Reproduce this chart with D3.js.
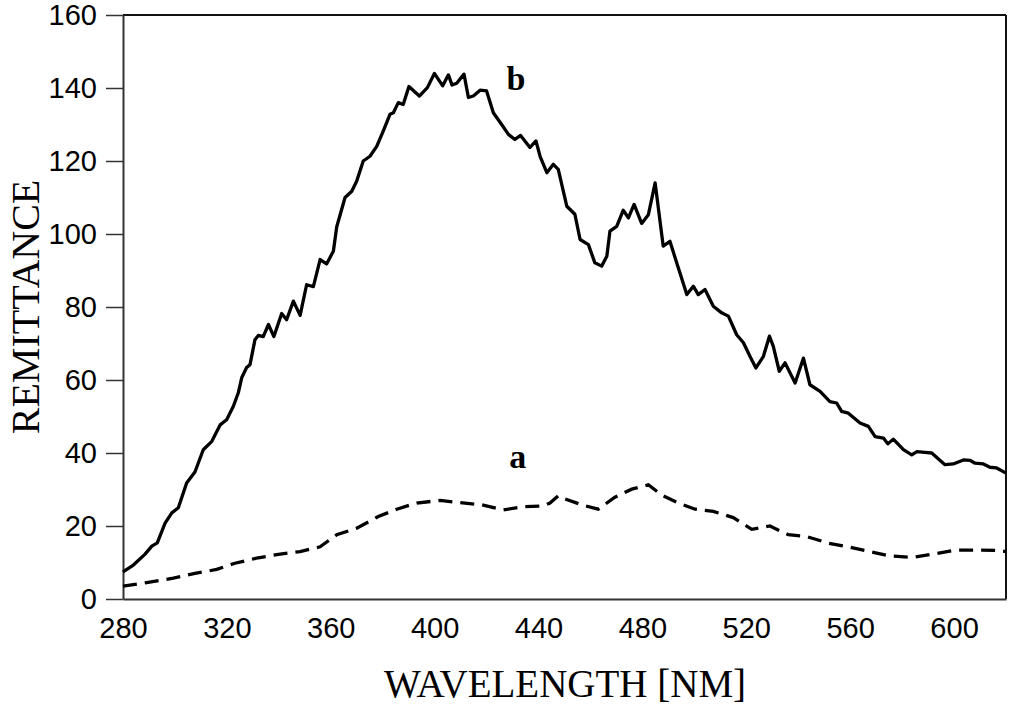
<!DOCTYPE html>
<html>
<head>
<meta charset="utf-8">
<script src="https://cdn.jsdelivr.net/npm/d3@7"></script>
<style>
  html, body { margin: 0; padding: 0; background: #fff; }
  svg { display: block; }
</style>
</head>
<body>
<svg id="chart" width="1009" height="704"></svg>
<script>
// ---- data ----
const xTicks = [280, 320, 360, 400, 440, 480, 520, 560, 600];
const yTicks = [0, 20, 40, 60, 80, 100, 120, 140, 160];

const bWavelength = [280, 284.0, 288.5, 291.1, 293.2, 296.2, 298.8, 301.3, 304.5, 307.7, 310.9, 314.2, 317.4, 319.9, 322.5, 324.4, 325.7, 327.6, 328.9, 330.8, 332.1, 334.0, 336.0, 338.1, 341.1, 343.0, 345.6, 348.2, 350.7, 353.3, 355.9, 358.4, 361.0, 362.3, 365.5, 368.1, 370.0, 372.5, 375.1, 377.7, 380.2, 382.8, 384.1, 386.0, 387.9, 390.1, 394.1, 397.2, 399.9, 403.1, 405.3, 406.7, 408.5, 411.3, 413.0, 414.9, 417.5, 420.0, 422.6, 425.8, 428.4, 430.9, 433.1, 436.7, 439.0, 440.6, 443.2, 445.7, 447.6, 450.9, 454.0, 456.0, 459.2, 461.7, 464.3, 466.3, 467.5, 470.1, 472.6, 474.6, 476.8, 479.7, 482.3, 484.9, 488.0, 490.6, 493.2, 497.1, 499.6, 501.5, 504.1, 507.3, 510.5, 513.1, 516.3, 518.9, 521.4, 523.7, 526.6, 528.9, 530.4, 532.7, 534.9, 538.8, 542.0, 544.5, 548.4, 552.2, 554.8, 556.7, 559.3, 563.8, 567.0, 569.6, 572.8, 574.5, 576.6, 580.5, 583.7, 585.7, 588.8, 591.4, 596.5, 599.7, 603.6, 606.1, 608.1, 611.3, 613.8, 616.4, 620];
const bValue = [7.4, 9.3, 12.3, 14.5, 15.4, 20.8, 23.6, 25.0, 31.8, 34.8, 40.9, 43.2, 47.7, 49.1, 52.8, 56.5, 60.6, 63.4, 64.2, 71.0, 72.2, 71.9, 75.2, 71.9, 78.2, 76.5, 81.6, 77.7, 86.1, 85.6, 93.0, 91.8, 95.3, 102.0, 110.0, 111.7, 114.5, 120.0, 121.3, 124.0, 128.2, 132.8, 133.2, 136.0, 135.5, 140.4, 137.8, 140.1, 144.0, 140.6, 143.6, 140.8, 141.3, 143.8, 137.4, 137.8, 139.4, 139.2, 133.2, 130.0, 127.3, 125.9, 127.0, 123.7, 125.5, 121.3, 116.8, 119.1, 117.7, 107.6, 105.4, 98.5, 97.1, 92.1, 91.2, 93.9, 100.8, 102.1, 106.5, 104.4, 108.1, 102.9, 105.3, 114.0, 96.7, 98.0, 92.1, 83.4, 85.7, 83.4, 84.8, 80.2, 78.4, 77.5, 72.4, 70.2, 66.5, 63.3, 66.5, 72.0, 69.2, 62.4, 64.7, 59.2, 66.0, 58.7, 56.9, 54.1, 53.7, 51.4, 50.9, 48.2, 47.3, 44.5, 44.1, 42.5, 43.8, 40.9, 39.5, 40.4, 40.2, 40.0, 36.8, 37.0, 38.1, 38.0, 37.2, 37.0, 36.1, 35.9, 34.5];

const aWavelength = [280, 289.1, 299.4, 307.7, 316.1, 323.1, 332.1, 340.5, 348.2, 355.9, 362.3, 370.0, 378.3, 385.4, 393.1, 402.1, 409.8, 418.1, 426.4, 434.1, 441.8, 444.4, 447.6, 449.5, 456.6, 463.0, 469.4, 475.9, 482.3, 487.4, 493.8, 500.3, 507.3, 515.0, 522.1, 529.1, 536.2, 543.3, 551.6, 559.9, 567.6, 575.3, 583.7, 592.0, 600.4, 608.1, 616.4, 620];
const aValue = [3.5, 4.5, 5.7, 7.0, 8.1, 9.8, 11.3, 12.3, 13.0, 14.3, 17.6, 19.4, 22.6, 24.6, 26.3, 27.0, 26.4, 25.8, 24.4, 25.3, 25.5, 26.3, 28.3, 27.6, 25.8, 24.6, 27.9, 30.1, 31.3, 28.5, 26.3, 24.6, 24.0, 22.3, 19.1, 20.0, 17.6, 17.1, 15.3, 14.2, 13.0, 11.8, 11.4, 12.3, 13.4, 13.4, 13.3, 13.0];

const seriesLabels = ["a", "b"];
const xTitle = "WAVELENGTH [NM]";
const yTitle = "REMITTANCE";

// ---- layout ----
const svg = d3.select("#chart");
const L = 123, R = 1006, T = 15, B = 599;

const x = d3.scaleLinear().domain([280, 620]).range([L, R]);
const y = d3.scaleLinear().domain([0, 160]).range([B, T]);

// border (top & right)
svg.append("line").attr("x1", L).attr("x2", R).attr("y1", T).attr("y2", T)
  .attr("stroke", "#111").attr("stroke-width", 2);
svg.append("line").attr("x1", R).attr("x2", R).attr("y1", T).attr("y2", B)
  .attr("stroke", "#111").attr("stroke-width", 2);

// y axis
const yAxis = svg.append("g").attr("transform", `translate(${L},0)`)
  .call(d3.axisLeft(y).tickValues(yTicks).tickSize(17).tickPadding(9).tickSizeOuter(0));
yAxis.select(".domain").attr("stroke", "#333").attr("stroke-width", 2);
yAxis.selectAll(".tick line").attr("stroke", "#333").attr("stroke-width", 1.5);
yAxis.selectAll("text").attr("font-family", "Liberation Sans, Arial, sans-serif")
  .attr("font-size", 29).attr("fill", "#000");

// x axis
const xAxis = svg.append("g").attr("transform", `translate(0,${B})`)
  .call(d3.axisBottom(x).tickValues(xTicks).tickSize(0).tickPadding(18).tickSizeOuter(0));
xAxis.select(".domain").attr("stroke", "#333").attr("stroke-width", 2);
xAxis.selectAll("text").attr("font-family", "Liberation Sans, Arial, sans-serif")
  .attr("font-size", 29).attr("fill", "#000");

// lines
const line = d3.line().x(d => x(d[0])).y(d => y(d[1]));
const aData = aWavelength.map((w, i) => [w, aValue[i]]);
const bData = bWavelength.map((w, i) => [w, bValue[i]]);

svg.append("path").datum(aData).attr("d", line)
  .attr("fill", "none").attr("stroke", "#000").attr("stroke-width", 3.3)
  .attr("stroke-dasharray", "14,8");
svg.append("path").datum(bData).attr("d", line)
  .attr("fill", "none").attr("stroke", "#000").attr("stroke-width", 3.3)
  .attr("stroke-linejoin", "round");

// series labels
svg.append("text").attr("x", x(431.3)).attr("y", y(139.5))
  .attr("font-family", "Liberation Serif, Times New Roman, serif")
  .attr("font-weight", "bold").attr("font-size", 34).attr("text-anchor", "middle")
  .text(seriesLabels[1]);
svg.append("text").attr("x", x(432)).attr("y", y(35.8))
  .attr("font-family", "Liberation Serif, Times New Roman, serif")
  .attr("font-weight", "bold").attr("font-size", 34).attr("text-anchor", "middle")
  .text(seriesLabels[0]);

// axis titles
svg.append("text").attr("x", 565).attr("y", 697)
  .attr("font-family", "Liberation Serif, Times New Roman, serif")
  .attr("font-size", 39).attr("text-anchor", "middle").text(xTitle);
svg.append("text").attr("transform", `translate(39,307) rotate(-90)`)
  .attr("font-family", "Liberation Serif, Times New Roman, serif")
  .attr("font-size", 40).attr("text-anchor", "middle").text(yTitle);
</script>
</body>
</html>
